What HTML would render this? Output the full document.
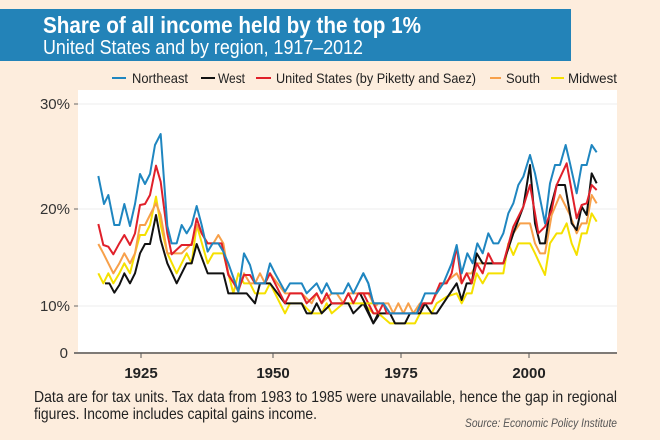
<!DOCTYPE html>
<html><head><meta charset="utf-8"><style>
html,body{margin:0;padding:0;background:#fdeddd;}
svg{display:block;font-family:"Liberation Sans Narrow","Liberation Sans",sans-serif;}
</style></head><body>
<svg width="660" height="440" viewBox="0 0 660 440" xmlns="http://www.w3.org/2000/svg">
<rect width="660" height="440" fill="#fdeddd"/>
<rect x="0" y="9" width="571" height="52" fill="#2383b8"/>
<text x="43" y="33" font-size="23" font-weight="bold" fill="#fff" textLength="378" lengthAdjust="spacingAndGlyphs">Share of all income held by the top 1%</text>
<text x="43" y="54" font-size="20" fill="#fff" textLength="320" lengthAdjust="spacingAndGlyphs">United States and by region, 1917–2012</text>
<g font-size="14" fill="#222">
<line x1="112" y1="78" x2="126" y2="78" stroke="#1f86c0" stroke-width="2"/>
<text x="132" y="83" textLength="56" lengthAdjust="spacingAndGlyphs">Northeast</text>
<line x1="201" y1="78" x2="215" y2="78" stroke="#111" stroke-width="2"/>
<text x="218" y="83" textLength="27" lengthAdjust="spacingAndGlyphs">West</text>
<line x1="256" y1="78" x2="271" y2="78" stroke="#e0202a" stroke-width="2"/>
<text x="276" y="83" textLength="200" lengthAdjust="spacingAndGlyphs">United States (by Piketty and Saez)</text>
<line x1="490" y1="78" x2="501" y2="78" stroke="#f7a04a" stroke-width="2"/>
<text x="506" y="83" textLength="34" lengthAdjust="spacingAndGlyphs">South</text>
<line x1="551" y1="78" x2="564" y2="78" stroke="#f5e000" stroke-width="2"/>
<text x="568" y="83" textLength="49" lengthAdjust="spacingAndGlyphs">Midwest</text>
</g>
<rect x="78" y="90" width="539" height="262" fill="#fff"/>
<g stroke="#ececec" stroke-width="1">
<line x1="78" y1="104" x2="617" y2="104"/>
<line x1="78" y1="209" x2="617" y2="209"/>
<line x1="78" y1="306" x2="617" y2="306"/>
</g>
<g stroke="#666" stroke-width="1">
<line x1="74" y1="104" x2="78" y2="104"/><line x1="74" y1="209" x2="78" y2="209"/><line x1="74" y1="306" x2="78" y2="306"/>
</g>
<line x1="74" y1="353" x2="617" y2="353" stroke="#555" stroke-width="1.5"/>
<g stroke="#555"><line x1="141" y1="353" x2="141" y2="358"/><line x1="273" y1="353" x2="273" y2="358"/><line x1="401" y1="353" x2="401" y2="358"/><line x1="529" y1="353" x2="529" y2="358"/></g>
<g font-size="15" fill="#333" text-anchor="end">
<text x="70" y="109">30%</text><text x="70" y="214">20%</text><text x="70" y="311">10%</text><text x="68" y="358">0</text>
</g>
<g font-size="15" font-weight="bold" fill="#222" text-anchor="middle">
<text x="141" y="378">1925</text><text x="273" y="378">1950</text><text x="401" y="378">1975</text><text x="529" y="378">2000</text>
</g>
<text x="34" y="402" font-size="16" fill="#222" textLength="583" lengthAdjust="spacingAndGlyphs">Data are for tax units. Tax data from 1983 to 1985 were unavailable, hence the gap in regional</text>
<text x="34" y="419" font-size="16" fill="#222" textLength="283" lengthAdjust="spacingAndGlyphs">figures. Income includes capital gains income.</text>
<text x="617" y="427" font-size="12" font-style="italic" fill="#555" text-anchor="end" textLength="152" lengthAdjust="spacingAndGlyphs">Source: Economic Policy Institute</text>

<g fill="none" stroke-width="2" stroke-linejoin="round">
<g transform="translate(80,100) scale(0.33333)">
<polyline vector-effect="non-scaling-stroke" stroke="#f5e000" points="55,520 70,550 85,520 100,550 118,520 133,490 150,520 165,460 180,405 195,405 210,375 228,290 242,375 262,460 290,520 305,490 320,460 335,490 350,375 383,490 400,460 430,460 445,520 460,580 475,520 492,550 510,550 525,580 555,580 570,550 615,640 630,610 665,610 695,640 725,640 740,610 755,640 790,610 850,610 880,640 900,640"/>
<polyline vector-effect="non-scaling-stroke" stroke="#f7a04a" points="55,432 70,460 85,490 100,520 118,490 133,460 150,490 165,460 180,375 195,375 210,345 228,310 242,345 262,460 275,460 305,460 335,430 350,375 365,400 383,430 400,430 415,405 430,430 445,520 475,575 492,520 510,550 525,550 540,520 555,550 570,520 615,580 665,580 695,610 710,580 725,610 755,580 770,580 790,610 805,580 865,580 880,610 900,610"/>
<polyline vector-effect="non-scaling-stroke" stroke="#111" points="75,550 88,550 103,578 118,555 133,520 150,550 165,520 180,460 195,432 210,432 228,345 242,420 262,490 290,550 305,520 320,490 335,490 350,432 383,520 430,520 445,580 500,580 525,610 540,550 555,550 570,550 615,610 665,610 680,640 695,640 710,610 725,640 755,610 805,610 820,640 850,610 865,640 880,670 900,640"/>
<polyline vector-effect="non-scaling-stroke" stroke="#e0202a" points="55,372 70,435 85,440 100,463 118,430 133,405 150,435 165,400 180,315 195,312 210,285 228,197 242,245 262,400 275,463 305,435 335,435 350,355 365,400 383,430 425,430 445,525 475,570 492,525 510,525 525,550 555,550 570,520 615,610 630,580 665,580 680,610 710,580 725,610 740,580 755,610 790,610 805,580 820,610 835,580 850,580 865,610 880,640 900,640"/>
<polyline vector-effect="non-scaling-stroke" stroke="#1f86c0" points="55,228 72,312 85,285 103,375 118,375 133,312 150,378 165,312 180,222 195,252 210,222 225,135 242,102 262,378 275,430 290,430 305,375 320,400 335,375 350,318 365,375 383,455 398,430 415,430 430,455 445,490 475,575 492,460 510,495 525,550 555,550 570,490 585,520 615,575 630,550 665,550 680,580 710,550 725,580 740,550 755,580 790,580 805,550 820,580 850,520 865,550 880,610 900,610"/>
</g>
<g transform="translate(360,100) scale(0.33333)">
<polyline vector-effect="non-scaling-stroke" stroke="#f5e000" points="0,610 40,610 55,640 90,670 165,670 180,640 215,640 230,610 260,590 290,580 305,610 320,580 335,580 350,520 368,550 385,520 430,520 445,430 460,465 475,430 510,430 525,460 555,525 570,430 590,400 605,400 620,370 635,430 650,465 665,400 680,400 695,340 710,365"/>
<polyline vector-effect="non-scaling-stroke" stroke="#f7a04a" points="0,580 30,580 45,620 55,610 85,610 100,640 115,610 130,640 145,610 160,640 180,610 215,610 240,560 290,520 305,550 320,520 335,520 350,490 368,490 385,490 430,490 460,400 480,370 510,370 525,430 540,460 555,460 575,345 600,285 630,345 650,400 665,370 680,370 695,285 710,310"/>
<polyline vector-effect="non-scaling-stroke" stroke="#111" points="0,580 15,610 40,670 55,640 90,640 105,670 135,670 150,640 180,640 195,610 215,640 230,640 250,610 290,550 305,600 320,550 335,550 350,460 368,490 385,490 430,490 460,400 490,320 510,195 525,370 540,430 555,430 570,330 590,255 615,255 635,370 650,390 665,320 680,345 695,220 710,250"/>
<polyline vector-effect="non-scaling-stroke" stroke="#e0202a" points="0,580 30,580 45,620 55,640 70,610 80,640 170,640 190,610 215,610 240,550 260,550 275,520 290,440 305,550 320,520 335,550 350,490 368,520 385,460 400,490 430,490 460,380 475,350 490,320 510,255 525,340 535,400 555,380 575,330 590,255 620,190 650,355 665,315 680,310 695,255 710,270"/>
<polyline vector-effect="non-scaling-stroke" stroke="#1f86c0" points="0,540 10,520 25,550 40,610 70,610 90,640 170,640 195,580 230,580 250,550 275,490 290,435 305,520 322,460 338,490 352,430 368,460 385,400 400,430 415,430 430,400 445,340 460,310 475,255 490,230 510,165 525,220 555,370 570,250 585,195 600,195 617,135 630,190 650,280 665,195 680,195 695,135 710,157"/>
</g>
</g>
</svg>
</body></html>
